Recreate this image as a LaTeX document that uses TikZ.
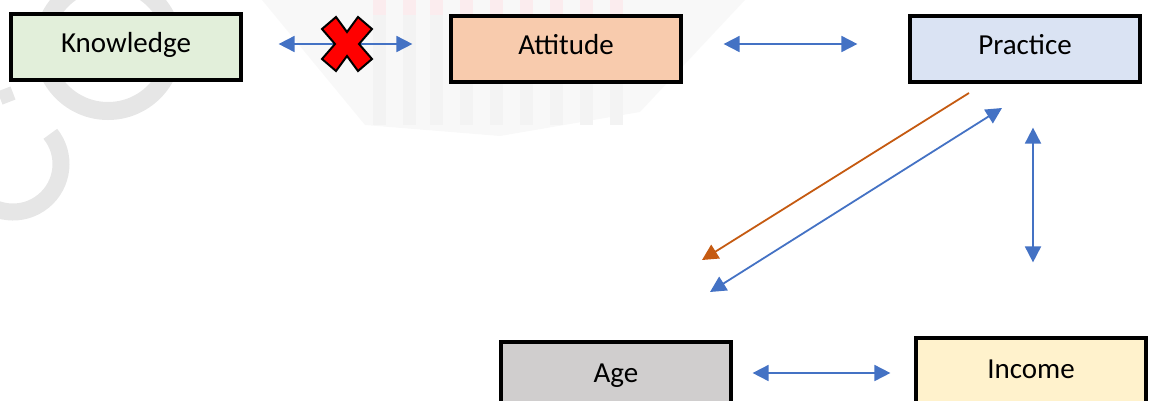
\documentclass[tikz,border=0pt]{standalone}
\usepackage{fontspec}
\setmainfont{Carlito}
\usetikzlibrary{arrows.meta}
\definecolor{kfill}{HTML}{E2EFDA}
\definecolor{afill}{HTML}{F8CBAD}
\definecolor{pfill}{HTML}{DAE3F3}
\definecolor{agefill}{HTML}{D0CECE}
\definecolor{incfill}{HTML}{FFF2CC}
\definecolor{arrowblue}{HTML}{4472C4}
\definecolor{arroworange}{HTML}{C55A11}
\definecolor{wmgray}{RGB}{230,230,230}
\definecolor{wmlight}{RGB}{248,248,248}
\definecolor{wmstripe}{RGB}{243,243,243}
\definecolor{wmpink}{RGB}{251,236,238}
\begin{document}
\begin{tikzpicture}[x=1pt,y=-1pt,
  box/.style={draw=black, line width=3.2pt, minimum width=230pt, minimum height=66pt,
    inner sep=0pt, font=\fontsize{29}{34}\selectfont, text height=18.7pt, text depth=8pt},
  lowbox/.style={box, minimum height=70pt},
  biarrow/.style={draw=arrowblue, line width=1.8pt,
    {Triangle[length=16pt,width=16pt]}-{Triangle[length=16pt,width=16pt]}},
  onearrow/.style={draw=arroworange, line width=1.8pt, -{Triangle[length=16pt,width=16pt]}},
  wmring/.style={draw=wmgray, line width=18pt},
  crossmark/.style={fill=red, draw=black, line width=2pt, line join=miter}
]
\useasboundingbox (0,0) rectangle (1154,400);
\clip (0,0) rectangle (1154,400);

% faint watermark
\fill[wmlight] (262,0) -- (365,125) -- (500,136) -- (640,112) -- (745,0) -- cycle;
\foreach \sx in {373,403,430,460,490,520,550,580,610} {
  \fill[wmstripe] (\sx,15) rectangle ++(13,110);
  \fill[wmpink] (\sx,0) rectangle ++(13,15);
}
\draw[wmring] (108,46) circle (65);
\draw[wmring, line width=17pt] (13,164) ++(-39:48) arc[start angle=-39, end angle=185, radius=48];
\draw[wmgray, line width=14pt] (0,98) -- (13,93);

% boxes
\node[box, fill=kfill] (k) at (126,47) {Knowledge};
\node[box, fill=afill] (a) at (566,49) {Attitude};
\node[box, fill=pfill] (p) at (1025,49) {Practice};
\node[lowbox, fill=agefill] (age) at (616,377) {Age};
\node[lowbox, fill=incfill] (inc) at (1031,373) {Income};

% connectors
\draw[biarrow, shorten <=36pt, shorten >=37pt] ([yshift=3pt]k.east) -- ([yshift=3pt]k.east -| a.west);
\draw[biarrow, shorten <=41pt, shorten >=51pt] ([yshift=5pt]a.east) -- ([yshift=5pt]a.east -| p.west);
\coordinate (vtop) at ([xshift=8pt]p.south);
\coordinate (vbot) at (vtop |- inc.north);
\draw[biarrow, shorten <=44pt, shorten >=74pt] (vtop) -- (vbot);
\draw[biarrow, shorten <=20pt, shorten >=24pt] ([yshift=4pt]age.east) -- ([yshift=4pt]age.east -| inc.west);
\coordinate (o1) at (969,93);
\coordinate (o2) at (702,260);
\draw[onearrow] (o1) -- (o2);
\coordinate (b1) at (710,292);
\coordinate (b2) at (1002,108);
\draw[biarrow] (b1) -- (b2);

% red cross over the Knowledge-Attitude link
\draw[crossmark, shift={(347,44)}]
  (-25,-15) -- (-11,-27) -- (0,-12) -- (11,-27) -- (25,-15) -- (12,0) --
  (25,15) -- (11,27) -- (0,12) -- (-11,27) -- (-25,15) -- (-12,0) -- cycle;
\end{tikzpicture}
\end{document}
